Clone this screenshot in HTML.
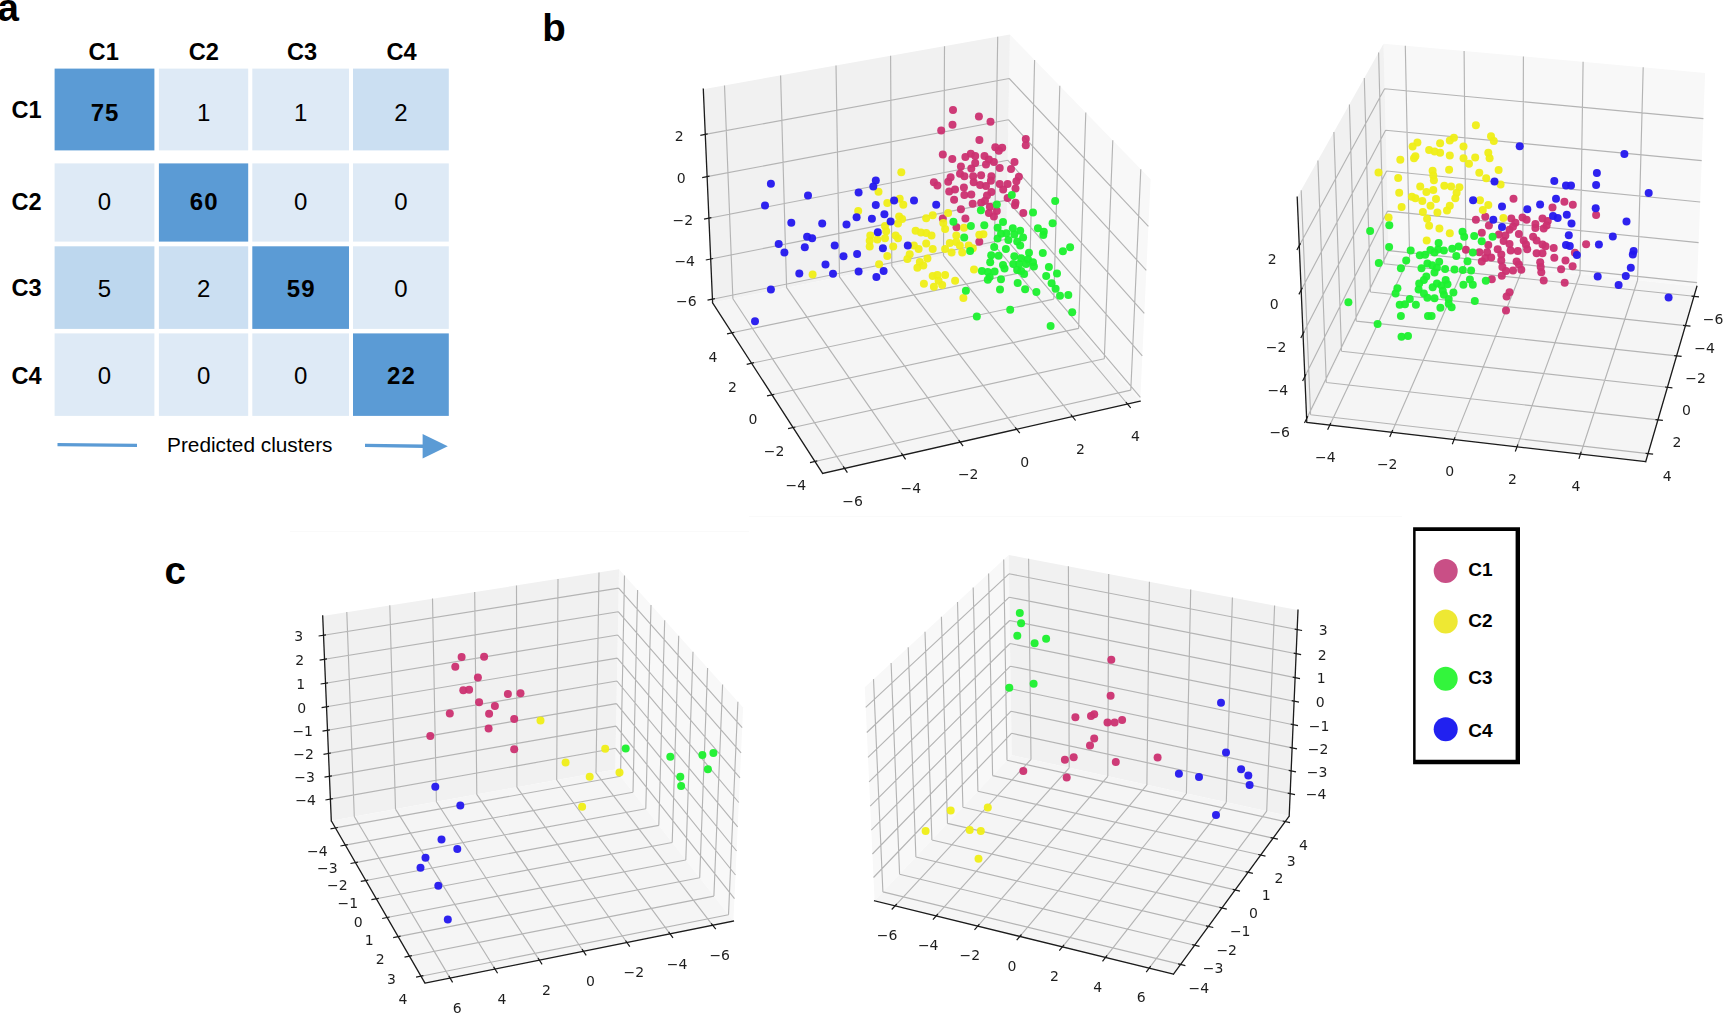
<!DOCTYPE html>
<html><head><meta charset="utf-8"><title>Figure</title>
<style>
html,body{margin:0;padding:0;background:#fff;}
body{width:1728px;height:1018px;position:relative;overflow:hidden;font-family:"Liberation Sans",sans-serif;color:#000;}
svg{position:absolute;left:0;top:0;}
svg text{font-family:"DejaVu Sans","Liberation Sans",sans-serif;}
text.pl{font-family:"Liberation Sans",sans-serif;font-weight:bold;font-size:38.5px;fill:#000;}
text.hd{font-family:"Liberation Sans",sans-serif;font-weight:bold;font-size:23.6px;fill:#000;}
text.nb{font-family:"Liberation Sans",sans-serif;font-weight:bold;font-size:24px;letter-spacing:1.1px;fill:#000;text-anchor:middle;}
text.nr{font-family:"Liberation Sans",sans-serif;font-size:24px;fill:#000;text-anchor:middle;}
text.cap{font-family:"Liberation Sans",sans-serif;font-size:20px;fill:#000;}
.tl text{font-size:14px;text-anchor:middle;fill:#1f1f1f;}
text.lg{font-family:"Liberation Sans",sans-serif;font-weight:bold;font-size:19px;fill:#000;}
</style></head><body>
<svg width="1728" height="1018" viewBox="0 0 1728 1018">
<path d="M749 516.5H1402M290 531.6H749" stroke="#fafafa" stroke-width="1" fill="none"/>
<defs><filter id="sb" x="-5%" y="-5%" width="110%" height="110%"><feGaussianBlur stdDeviation="0.55"/></filter></defs>
<g filter="url(#sb)">
<polygon points="1140.2,401.2 1006.2,242.9 1009.9,34.5 1150.6,179.3" fill="#f8f8f8"/>
<polygon points="712.6,302.8 1006.2,242.9 1009.9,34.5 703.3,89.2" fill="#f1f1f1"/>
<polygon points="822.6,473.4 1140.2,401.2 1006.2,242.9 712.6,302.8" fill="#f5f5f5"/>
<path d="M732.9,298.7L724.5,85.4M844.6,468.4L732.9,298.7M786.6,287.7L780.6,75.4M902.8,455.2L786.6,287.7M839.5,276.9L836.0,65.5M960.2,442.1L839.5,276.9M891.8,266.2L890.6,55.8M1016.7,429.3L891.8,266.2M943.5,255.7L944.5,46.2M1072.5,416.6L943.5,255.7M994.5,245.3L997.7,36.7M1127.5,404.0L994.5,245.3M1130.8,390.1L1140.8,169.2M814.9,461.5L1130.8,390.1M1104.3,358.7L1112.8,140.3M793.0,427.5L1104.3,358.7M1078.6,328.4L1085.8,112.6M771.9,394.8L1078.6,328.4M1053.8,299.1L1059.8,85.8M751.5,363.3L1053.8,299.1M1029.8,270.8L1034.6,59.9M731.9,332.8L1029.8,270.8M1140.4,397.4L1006.3,239.3M712.4,299.2L1006.3,239.3M1142.3,355.8L1007.0,200.1M710.7,259.0L1007.0,200.1M1144.3,313.4L1007.7,160.2M708.9,218.2L1007.7,160.2M1146.3,270.3L1008.4,119.7M707.1,176.6L1008.4,119.7M1148.4,226.3L1009.2,78.5M705.2,134.4L1009.2,78.5" stroke="#b4b4b4" stroke-width="1.15" fill="none"/>
<g fill="#cb2f70" fill-opacity="0.95"><circle cx="953.0" cy="110.0" r="4"/><circle cx="978.9" cy="116.4" r="4"/><circle cx="990.5" cy="121.7" r="4"/><circle cx="952.5" cy="124.7" r="4"/><circle cx="941.2" cy="130.4" r="4"/><circle cx="979.3" cy="241.8" r="4"/><circle cx="979.4" cy="139.9" r="4"/><circle cx="995.3" cy="147.3" r="4"/><circle cx="1002.2" cy="147.8" r="4"/><circle cx="998.8" cy="150.7" r="4"/><circle cx="1025.8" cy="138.9" r="4"/><circle cx="1025.8" cy="145.3" r="4"/><circle cx="942.8" cy="154.6" r="4"/><circle cx="952.3" cy="159.1" r="4"/><circle cx="965.4" cy="157.1" r="4"/><circle cx="970.8" cy="153.7" r="4"/><circle cx="975.2" cy="156.1" r="4"/><circle cx="984.5" cy="156.1" r="4"/><circle cx="988.9" cy="159.6" r="4"/><circle cx="993.9" cy="162.0" r="4"/><circle cx="986.0" cy="164.5" r="4"/><circle cx="975.2" cy="163.0" r="4"/><circle cx="971.3" cy="168.4" r="4"/><circle cx="960.9" cy="166.4" r="4"/><circle cx="999.7" cy="167.9" r="4"/><circle cx="1014.5" cy="162.0" r="4"/><circle cx="1011.0" cy="168.9" r="4"/><circle cx="950.6" cy="177.2" r="4"/><circle cx="948.2" cy="181.7" r="4"/><circle cx="960.0" cy="173.8" r="4"/><circle cx="964.4" cy="176.3" r="4"/><circle cx="973.2" cy="176.3" r="4"/><circle cx="981.1" cy="175.3" r="4"/><circle cx="991.4" cy="176.3" r="4"/><circle cx="990.9" cy="180.7" r="4"/><circle cx="973.7" cy="182.2" r="4"/><circle cx="980.1" cy="185.1" r="4"/><circle cx="986.0" cy="186.1" r="4"/><circle cx="1018.9" cy="176.7" r="4"/><circle cx="1016.4" cy="181.2" r="4"/><circle cx="999.7" cy="184.1" r="4"/><circle cx="1007.6" cy="184.1" r="4"/><circle cx="1003.2" cy="189.5" r="4"/><circle cx="1015.5" cy="188.5" r="4"/><circle cx="991.4" cy="192.0" r="4"/><circle cx="987.0" cy="195.4" r="4"/><circle cx="933.9" cy="182.2" r="4"/><circle cx="937.4" cy="185.6" r="4"/><circle cx="949.2" cy="191.5" r="4"/><circle cx="955.0" cy="189.5" r="4"/><circle cx="963.9" cy="187.6" r="4"/><circle cx="964.4" cy="194.9" r="4"/><circle cx="971.3" cy="194.4" r="4"/><circle cx="954.1" cy="199.8" r="4"/><circle cx="972.7" cy="203.8" r="4"/><circle cx="981.1" cy="202.8" r="4"/><circle cx="985.0" cy="200.8" r="4"/><circle cx="1007.6" cy="197.9" r="4"/><circle cx="1015.5" cy="202.8" r="4"/><circle cx="1015.0" cy="205.2" r="4"/><circle cx="989.9" cy="206.7" r="4"/><circle cx="988.9" cy="213.1" r="4"/><circle cx="993.9" cy="216.5" r="4"/><circle cx="996.8" cy="211.1" r="4"/><circle cx="960.9" cy="209.2" r="4"/><circle cx="965.4" cy="218.5" r="4"/><circle cx="942.8" cy="218.5" r="4"/><circle cx="1023.3" cy="213.1" r="4"/><circle cx="956.5" cy="227.3" r="4"/></g>
<g fill="#efee18" fill-opacity="0.95"><circle cx="858.2" cy="211.0" r="4"/><circle cx="812.6" cy="274.4" r="4"/><circle cx="901.3" cy="172.2" r="4"/><circle cx="983.4" cy="234.3" r="4"/><circle cx="878.5" cy="191.8" r="4"/><circle cx="887.3" cy="203.0" r="4"/><circle cx="899.7" cy="198.8" r="4"/><circle cx="903.3" cy="204.7" r="4"/><circle cx="899.1" cy="216.5" r="4"/><circle cx="902.1" cy="218.9" r="4"/><circle cx="898.0" cy="223.6" r="4"/><circle cx="885.0" cy="226.0" r="4"/><circle cx="886.2" cy="231.3" r="4"/><circle cx="870.3" cy="235.4" r="4"/><circle cx="869.7" cy="240.7" r="4"/><circle cx="869.7" cy="246.6" r="4"/><circle cx="877.3" cy="239.5" r="4"/><circle cx="885.0" cy="238.3" r="4"/><circle cx="895.6" cy="235.4" r="4"/><circle cx="898.0" cy="238.3" r="4"/><circle cx="893.2" cy="246.6" r="4"/><circle cx="887.3" cy="256.0" r="4"/><circle cx="879.1" cy="264.3" r="4"/><circle cx="915.6" cy="230.7" r="4"/><circle cx="920.9" cy="232.4" r="4"/><circle cx="926.2" cy="233.0" r="4"/><circle cx="931.5" cy="235.4" r="4"/><circle cx="913.9" cy="245.4" r="4"/><circle cx="918.6" cy="248.9" r="4"/><circle cx="926.2" cy="243.6" r="4"/><circle cx="932.7" cy="248.9" r="4"/><circle cx="909.7" cy="254.2" r="4"/><circle cx="907.4" cy="259.0" r="4"/><circle cx="927.4" cy="258.4" r="4"/><circle cx="919.8" cy="261.9" r="4"/><circle cx="917.4" cy="267.8" r="4"/><circle cx="923.3" cy="265.4" r="4"/><circle cx="926.2" cy="218.3" r="4"/><circle cx="932.7" cy="215.3" r="4"/><circle cx="943.3" cy="223.0" r="4"/><circle cx="945.1" cy="228.9" r="4"/><circle cx="948.1" cy="213.0" r="4"/><circle cx="964.0" cy="227.7" r="4"/><circle cx="956.3" cy="235.4" r="4"/><circle cx="949.8" cy="243.0" r="4"/><circle cx="956.3" cy="241.9" r="4"/><circle cx="959.8" cy="245.4" r="4"/><circle cx="945.1" cy="248.9" r="4"/><circle cx="951.6" cy="252.5" r="4"/><circle cx="962.2" cy="252.5" r="4"/><circle cx="968.7" cy="245.4" r="4"/><circle cx="972.8" cy="248.3" r="4"/><circle cx="979.3" cy="234.8" r="4"/><circle cx="932.7" cy="276.1" r="4"/><circle cx="937.4" cy="274.9" r="4"/><circle cx="945.1" cy="274.9" r="4"/><circle cx="938.6" cy="280.8" r="4"/><circle cx="923.9" cy="283.7" r="4"/><circle cx="933.9" cy="286.7" r="4"/><circle cx="942.2" cy="284.9" r="4"/><circle cx="955.1" cy="280.8" r="4"/><circle cx="974.0" cy="269.6" r="4"/><circle cx="963.4" cy="297.9" r="4"/></g>
<g fill="#1cf02e" fill-opacity="0.95"><circle cx="1011.8" cy="194.9" r="4"/><circle cx="1055.2" cy="201.1" r="4"/><circle cx="996.8" cy="204.4" r="4"/><circle cx="980.9" cy="210.2" r="4"/><circle cx="1033.0" cy="212.4" r="4"/><circle cx="953.4" cy="221.7" r="4"/><circle cx="970.9" cy="225.9" r="4"/><circle cx="964.2" cy="237.6" r="4"/><circle cx="970.1" cy="251.0" r="4"/><circle cx="965.9" cy="290.7" r="4"/><circle cx="976.8" cy="316.4" r="4"/><circle cx="1050.6" cy="326.1" r="4"/><circle cx="984.3" cy="225.3" r="4"/><circle cx="1003.0" cy="221.9" r="4"/><circle cx="997.6" cy="227.8" r="4"/><circle cx="1012.8" cy="228.3" r="4"/><circle cx="1020.2" cy="230.7" r="4"/><circle cx="1001.0" cy="233.7" r="4"/><circle cx="1006.4" cy="233.2" r="4"/><circle cx="1014.3" cy="234.6" r="4"/><circle cx="1023.1" cy="237.6" r="4"/><circle cx="997.6" cy="238.6" r="4"/><circle cx="1008.4" cy="240.0" r="4"/><circle cx="1017.2" cy="241.5" r="4"/><circle cx="1020.2" cy="245.5" r="4"/><circle cx="994.2" cy="246.9" r="4"/><circle cx="1005.9" cy="248.9" r="4"/><circle cx="1037.9" cy="228.3" r="4"/><circle cx="1043.8" cy="231.7" r="4"/><circle cx="1043.3" cy="235.1" r="4"/><circle cx="1052.6" cy="223.3" r="4"/><circle cx="1029.0" cy="252.8" r="4"/><circle cx="1014.3" cy="256.3" r="4"/><circle cx="1021.2" cy="258.2" r="4"/><circle cx="1028.0" cy="259.2" r="4"/><circle cx="1033.0" cy="262.2" r="4"/><circle cx="1013.3" cy="264.1" r="4"/><circle cx="1019.2" cy="264.1" r="4"/><circle cx="1026.1" cy="264.1" r="4"/><circle cx="1033.9" cy="266.6" r="4"/><circle cx="1017.2" cy="270.0" r="4"/><circle cx="1024.1" cy="273.9" r="4"/><circle cx="1021.2" cy="271.0" r="4"/><circle cx="991.2" cy="255.3" r="4"/><circle cx="998.6" cy="255.8" r="4"/><circle cx="990.2" cy="262.2" r="4"/><circle cx="1003.0" cy="265.1" r="4"/><circle cx="1004.5" cy="268.5" r="4"/><circle cx="981.9" cy="271.0" r="4"/><circle cx="987.8" cy="272.0" r="4"/><circle cx="994.6" cy="271.5" r="4"/><circle cx="989.7" cy="276.9" r="4"/><circle cx="987.8" cy="279.8" r="4"/><circle cx="1001.0" cy="279.3" r="4"/><circle cx="1042.8" cy="253.1" r="4"/><circle cx="1062.9" cy="251.3" r="4"/><circle cx="1070.1" cy="247.2" r="4"/><circle cx="1048.9" cy="267.1" r="4"/><circle cx="1057.0" cy="273.4" r="4"/><circle cx="1046.2" cy="276.1" r="4"/><circle cx="1051.6" cy="283.3" r="4"/><circle cx="1055.6" cy="288.7" r="4"/><circle cx="1060.0" cy="295.7" r="4"/><circle cx="1068.3" cy="295.1" r="4"/><circle cx="1017.7" cy="283.0" r="4"/><circle cx="1025.1" cy="289.2" r="4"/><circle cx="1000.0" cy="289.5" r="4"/><circle cx="1036.4" cy="292.1" r="4"/><circle cx="1010.2" cy="309.8" r="4"/><circle cx="1072.2" cy="312.2" r="4"/></g>
<g fill="#2418ee" fill-opacity="0.95"><circle cx="770.9" cy="183.7" r="4"/><circle cx="765.0" cy="205.6" r="4"/><circle cx="808.0" cy="195.4" r="4"/><circle cx="791.3" cy="222.8" r="4"/><circle cx="822.2" cy="223.5" r="4"/><circle cx="846.5" cy="224.6" r="4"/><circle cx="858.6" cy="192.6" r="4"/><circle cx="875.8" cy="180.6" r="4"/><circle cx="873.3" cy="186.4" r="4"/><circle cx="875.8" cy="205.1" r="4"/><circle cx="856.6" cy="217.3" r="4"/><circle cx="871.9" cy="218.8" r="4"/><circle cx="884.4" cy="214.3" r="4"/><circle cx="890.6" cy="221.5" r="4"/><circle cx="894.1" cy="200.6" r="4"/><circle cx="914.0" cy="200.6" r="4"/><circle cx="877.8" cy="232.2" r="4"/><circle cx="807.1" cy="236.8" r="4"/><circle cx="812.1" cy="238.2" r="4"/><circle cx="778.7" cy="243.9" r="4"/><circle cx="784.4" cy="252.4" r="4"/><circle cx="804.8" cy="247.2" r="4"/><circle cx="834.7" cy="245.4" r="4"/><circle cx="843.5" cy="256.2" r="4"/><circle cx="857.1" cy="253.9" r="4"/><circle cx="882.9" cy="248.2" r="4"/><circle cx="907.8" cy="245.4" r="4"/><circle cx="825.5" cy="264.4" r="4"/><circle cx="799.3" cy="273.6" r="4"/><circle cx="833.0" cy="273.7" r="4"/><circle cx="858.6" cy="271.6" r="4"/><circle cx="883.6" cy="271.1" r="4"/><circle cx="876.4" cy="276.9" r="4"/><circle cx="770.9" cy="289.4" r="4"/><circle cx="755.0" cy="321.3" r="4"/><circle cx="936.2" cy="204.8" r="4"/></g>
<path d="M822.6,473.4L1140.2,401.2M822.6,473.4L712.6,302.8M712.6,302.8L703.3,89.2" stroke="#1a1a1a" stroke-width="1.3" fill="none" stroke-linecap="square"/>
<path d="M843.2,466.3L847.4,472.6M901.4,453.1L905.6,459.3M958.7,440.1L963.1,446.2M1015.2,427.3L1019.8,433.2M1070.9,414.6L1075.6,420.5M1125.9,402.1L1130.7,407.9M817.3,460.9L810.0,462.6M795.4,427.0L788.1,428.6M774.3,394.3L767.0,395.9M754.0,362.7L746.7,364.3M734.3,332.3L727.0,333.8M714.9,298.7L707.5,300.2M713.1,258.5L705.8,260.0M711.4,217.7L704.0,219.1M709.5,176.2L702.2,177.6M707.7,133.9L700.3,135.3" stroke="#1a1a1a" stroke-width="1.2" fill="none"/>
<g class="tl"><text x="852.6" y="505.7">−6</text><text x="910.8" y="492.5">−4</text><text x="968.2" y="479.4">−2</text><text x="1024.7" y="466.6">0</text><text x="1080.5" y="453.9">2</text><text x="1135.5" y="441.3">4</text><text x="795.9" y="490.3">−4</text><text x="774.0" y="456.3">−2</text><text x="752.9" y="423.6">0</text><text x="732.5" y="392.1">2</text><text x="712.9" y="361.6">4</text><text x="686.4" y="306.0">−6</text><text x="684.7" y="265.8">−4</text><text x="682.9" y="225.0">−2</text><text x="681.1" y="183.4">0</text><text x="679.2" y="141.2">2</text></g>
</g>
<g filter="url(#sb)">
<polygon points="1388.7,254.3 1696.9,286.4 1705.1,72.9 1383.5,43.7" fill="#f8f8f8"/>
<polygon points="1388.7,254.3 1306.8,422.5 1297.2,197.2 1383.5,43.7" fill="#f1f1f1"/>
<polygon points="1388.7,254.3 1306.8,422.5 1645.7,461.7 1696.9,286.4" fill="#f5f5f5"/>
<path d="M1384.0,263.8L1378.6,52.4M1384.0,263.8L1694.0,296.3M1370.4,292.0L1364.3,78.0M1370.4,292.0L1685.5,325.6M1356.2,321.1L1349.4,104.5M1356.2,321.1L1676.6,355.9M1341.5,351.2L1333.9,132.0M1341.5,351.2L1667.5,387.3M1326.3,382.5L1317.9,160.5M1326.3,382.5L1658.0,419.9M1310.6,414.8L1301.2,190.2M1310.6,414.8L1648.1,453.6M1409.6,256.5L1405.3,45.7M1409.6,256.5L1329.8,425.2M1466.0,262.4L1464.1,51.0M1466.0,262.4L1391.7,432.4M1522.8,268.3L1523.4,56.4M1522.8,268.3L1454.1,439.6M1580.0,274.2L1583.1,61.8M1580.0,274.2L1517.0,446.8M1637.6,280.2L1643.2,67.3M1637.6,280.2L1580.5,454.2M1388.6,250.6L1697.1,282.6M1388.6,250.6L1306.7,418.6M1387.6,211.1L1698.6,242.6M1387.6,211.1L1304.9,376.5M1386.6,171.0L1700.2,202.0M1386.6,171.0L1303.1,333.6M1385.6,130.2L1701.7,160.6M1385.6,130.2L1301.2,290.0M1384.6,88.8L1703.4,118.6M1384.6,88.8L1299.3,245.6" stroke="#b4b4b4" stroke-width="1.15" fill="none"/>
<g fill="#cb2f70" fill-opacity="0.95"><circle cx="1513.5" cy="198.7" r="4"/><circle cx="1564.4" cy="201.7" r="4"/><circle cx="1572.8" cy="204.7" r="4"/><circle cx="1596.1" cy="215.0" r="4"/><circle cx="1586.1" cy="244.3" r="4"/><circle cx="1552.5" cy="207.4" r="4"/><circle cx="1475.9" cy="219.7" r="4"/><circle cx="1485.3" cy="216.8" r="4"/><circle cx="1488.9" cy="225.6" r="4"/><circle cx="1481.8" cy="232.7" r="4"/><circle cx="1511.3" cy="218.6" r="4"/><circle cx="1522.5" cy="217.4" r="4"/><circle cx="1526.6" cy="219.7" r="4"/><circle cx="1515.4" cy="222.7" r="4"/><circle cx="1513.0" cy="226.8" r="4"/><circle cx="1509.5" cy="229.8" r="4"/><circle cx="1542.5" cy="218.6" r="4"/><circle cx="1547.8" cy="220.9" r="4"/><circle cx="1535.4" cy="223.9" r="4"/><circle cx="1535.4" cy="228.0" r="4"/><circle cx="1543.7" cy="228.6" r="4"/><circle cx="1546.6" cy="225.6" r="4"/><circle cx="1498.9" cy="234.5" r="4"/><circle cx="1505.4" cy="235.6" r="4"/><circle cx="1518.9" cy="233.9" r="4"/><circle cx="1503.6" cy="241.0" r="4"/><circle cx="1509.5" cy="243.9" r="4"/><circle cx="1523.7" cy="240.4" r="4"/><circle cx="1526.0" cy="244.5" r="4"/><circle cx="1533.1" cy="236.8" r="4"/><circle cx="1536.6" cy="240.4" r="4"/><circle cx="1542.5" cy="244.5" r="4"/><circle cx="1545.5" cy="246.3" r="4"/><circle cx="1527.2" cy="249.2" r="4"/><circle cx="1553.7" cy="248.0" r="4"/><circle cx="1465.9" cy="249.8" r="4"/><circle cx="1488.3" cy="245.1" r="4"/><circle cx="1497.7" cy="249.2" r="4"/><circle cx="1479.4" cy="252.2" r="4"/><circle cx="1487.1" cy="252.2" r="4"/><circle cx="1485.3" cy="258.0" r="4"/><circle cx="1491.2" cy="257.5" r="4"/><circle cx="1481.8" cy="261.6" r="4"/><circle cx="1501.3" cy="254.5" r="4"/><circle cx="1510.7" cy="250.4" r="4"/><circle cx="1517.8" cy="251.0" r="4"/><circle cx="1501.3" cy="260.4" r="4"/><circle cx="1516.6" cy="261.6" r="4"/><circle cx="1518.9" cy="264.5" r="4"/><circle cx="1502.4" cy="266.9" r="4"/><circle cx="1506.0" cy="271.0" r="4"/><circle cx="1513.0" cy="270.4" r="4"/><circle cx="1521.3" cy="269.8" r="4"/><circle cx="1501.8" cy="275.7" r="4"/><circle cx="1491.8" cy="279.3" r="4"/><circle cx="1536.6" cy="253.3" r="4"/><circle cx="1542.5" cy="253.3" r="4"/><circle cx="1540.2" cy="262.2" r="4"/><circle cx="1540.7" cy="266.9" r="4"/><circle cx="1541.3" cy="272.2" r="4"/><circle cx="1543.7" cy="280.4" r="4"/><circle cx="1554.3" cy="257.8" r="4"/><circle cx="1565.5" cy="260.4" r="4"/><circle cx="1572.6" cy="266.3" r="4"/><circle cx="1561.1" cy="269.2" r="4"/><circle cx="1564.7" cy="282.8" r="4"/><circle cx="1574.9" cy="252.7" r="4"/><circle cx="1509.5" cy="292.2" r="4"/><circle cx="1506.6" cy="296.4" r="4"/><circle cx="1506.0" cy="310.5" r="4"/></g>
<g fill="#efee18" fill-opacity="0.95"><circle cx="1475.9" cy="125.3" r="4"/><circle cx="1491.0" cy="136.3" r="4"/><circle cx="1493.8" cy="141.1" r="4"/><circle cx="1417.4" cy="142.5" r="4"/><circle cx="1412.6" cy="146.6" r="4"/><circle cx="1440.1" cy="143.2" r="4"/><circle cx="1449.8" cy="140.4" r="4"/><circle cx="1453.9" cy="137.7" r="4"/><circle cx="1463.5" cy="146.6" r="4"/><circle cx="1429.1" cy="150.1" r="4"/><circle cx="1434.6" cy="151.4" r="4"/><circle cx="1440.1" cy="152.8" r="4"/><circle cx="1449.8" cy="155.6" r="4"/><circle cx="1415.4" cy="156.3" r="4"/><circle cx="1414.0" cy="158.3" r="4"/><circle cx="1400.3" cy="159.7" r="4"/><circle cx="1463.5" cy="158.3" r="4"/><circle cx="1469.0" cy="163.8" r="4"/><circle cx="1475.2" cy="157.6" r="4"/><circle cx="1488.3" cy="152.8" r="4"/><circle cx="1489.6" cy="158.3" r="4"/><circle cx="1378.5" cy="172.5" r="4"/><circle cx="1398.2" cy="178.0" r="4"/><circle cx="1432.6" cy="170.7" r="4"/><circle cx="1433.3" cy="175.5" r="4"/><circle cx="1433.9" cy="180.3" r="4"/><circle cx="1449.1" cy="169.7" r="4"/><circle cx="1479.3" cy="172.8" r="4"/><circle cx="1486.2" cy="178.3" r="4"/><circle cx="1498.6" cy="170.0" r="4"/><circle cx="1500.6" cy="184.4" r="4"/><circle cx="1420.2" cy="186.5" r="4"/><circle cx="1399.2" cy="192.7" r="4"/><circle cx="1444.3" cy="185.8" r="4"/><circle cx="1451.1" cy="186.5" r="4"/><circle cx="1459.4" cy="187.2" r="4"/><circle cx="1456.6" cy="192.7" r="4"/><circle cx="1433.3" cy="190.0" r="4"/><circle cx="1426.4" cy="192.0" r="4"/><circle cx="1411.9" cy="196.8" r="4"/><circle cx="1415.4" cy="198.2" r="4"/><circle cx="1422.3" cy="201.0" r="4"/><circle cx="1436.0" cy="198.9" r="4"/><circle cx="1455.3" cy="198.2" r="4"/><circle cx="1449.8" cy="205.8" r="4"/><circle cx="1447.0" cy="210.6" r="4"/><circle cx="1430.5" cy="205.8" r="4"/><circle cx="1437.4" cy="212.6" r="4"/><circle cx="1401.6" cy="207.1" r="4"/><circle cx="1422.9" cy="212.0" r="4"/><circle cx="1427.1" cy="218.8" r="4"/><circle cx="1429.1" cy="225.7" r="4"/><circle cx="1439.4" cy="228.5" r="4"/><circle cx="1449.8" cy="233.3" r="4"/><circle cx="1480.0" cy="200.3" r="4"/><circle cx="1488.3" cy="205.1" r="4"/><circle cx="1482.8" cy="209.9" r="4"/><circle cx="1503.4" cy="218.1" r="4"/><circle cx="1388.6" cy="217.5" r="4"/><circle cx="1426.7" cy="240.4" r="4"/></g>
<g fill="#1cf02e" fill-opacity="0.95"><circle cx="1370.1" cy="231.1" r="4"/><circle cx="1389.3" cy="225.2" r="4"/><circle cx="1378.8" cy="263.1" r="4"/><circle cx="1348.4" cy="302.2" r="4"/><circle cx="1377.6" cy="323.9" r="4"/><circle cx="1462.5" cy="231.7" r="4"/><circle cx="1464.2" cy="236.8" r="4"/><circle cx="1474.2" cy="235.9" r="4"/><circle cx="1492.6" cy="236.8" r="4"/><circle cx="1389.1" cy="247.1" r="4"/><circle cx="1438.6" cy="242.9" r="4"/><circle cx="1410.7" cy="250.4" r="4"/><circle cx="1419.8" cy="255.3" r="4"/><circle cx="1425.1" cy="254.7" r="4"/><circle cx="1430.4" cy="250.0" r="4"/><circle cx="1434.5" cy="252.4" r="4"/><circle cx="1438.0" cy="249.4" r="4"/><circle cx="1443.9" cy="250.6" r="4"/><circle cx="1452.2" cy="248.8" r="4"/><circle cx="1458.7" cy="246.5" r="4"/><circle cx="1456.3" cy="255.9" r="4"/><circle cx="1472.8" cy="252.4" r="4"/><circle cx="1481.7" cy="241.2" r="4"/><circle cx="1406.2" cy="260.6" r="4"/><circle cx="1400.9" cy="268.3" r="4"/><circle cx="1421.5" cy="268.3" r="4"/><circle cx="1427.4" cy="263.6" r="4"/><circle cx="1432.2" cy="265.3" r="4"/><circle cx="1439.2" cy="261.8" r="4"/><circle cx="1436.9" cy="267.7" r="4"/><circle cx="1445.1" cy="268.9" r="4"/><circle cx="1454.5" cy="269.5" r="4"/><circle cx="1462.8" cy="270.1" r="4"/><circle cx="1471.1" cy="270.4" r="4"/><circle cx="1467.5" cy="261.2" r="4"/><circle cx="1434.5" cy="272.4" r="4"/><circle cx="1426.3" cy="276.5" r="4"/><circle cx="1423.9" cy="280.1" r="4"/><circle cx="1419.2" cy="283.6" r="4"/><circle cx="1418.6" cy="289.5" r="4"/><circle cx="1423.9" cy="293.6" r="4"/><circle cx="1427.4" cy="297.8" r="4"/><circle cx="1434.5" cy="298.3" r="4"/><circle cx="1432.7" cy="287.2" r="4"/><circle cx="1436.9" cy="283.6" r="4"/><circle cx="1441.6" cy="285.4" r="4"/><circle cx="1445.7" cy="280.1" r="4"/><circle cx="1447.5" cy="284.2" r="4"/><circle cx="1442.8" cy="290.7" r="4"/><circle cx="1443.9" cy="294.8" r="4"/><circle cx="1453.4" cy="292.5" r="4"/><circle cx="1448.7" cy="298.9" r="4"/><circle cx="1448.7" cy="303.7" r="4"/><circle cx="1451.6" cy="307.2" r="4"/><circle cx="1440.4" cy="307.8" r="4"/><circle cx="1397.4" cy="288.3" r="4"/><circle cx="1395.6" cy="293.6" r="4"/><circle cx="1409.8" cy="298.9" r="4"/><circle cx="1399.7" cy="304.8" r="4"/><circle cx="1405.0" cy="304.2" r="4"/><circle cx="1415.9" cy="304.8" r="4"/><circle cx="1400.9" cy="316.0" r="4"/><circle cx="1428.0" cy="316.0" r="4"/><circle cx="1431.6" cy="316.0" r="4"/><circle cx="1401.5" cy="336.7" r="4"/><circle cx="1408.0" cy="336.1" r="4"/><circle cx="1463.4" cy="284.8" r="4"/><circle cx="1469.9" cy="279.5" r="4"/><circle cx="1472.8" cy="284.8" r="4"/><circle cx="1485.8" cy="280.7" r="4"/><circle cx="1474.8" cy="301.1" r="4"/></g>
<g fill="#2418ee" fill-opacity="0.95"><circle cx="1494.5" cy="181.5" r="4"/><circle cx="1473.1" cy="200.2" r="4"/><circle cx="1502.0" cy="206.5" r="4"/><circle cx="1493.3" cy="219.7" r="4"/><circle cx="1502.0" cy="226.9" r="4"/><circle cx="1519.7" cy="146.2" r="4"/><circle cx="1624.4" cy="153.9" r="4"/><circle cx="1596.9" cy="173.1" r="4"/><circle cx="1596.1" cy="185.1" r="4"/><circle cx="1554.3" cy="180.9" r="4"/><circle cx="1566.0" cy="185.6" r="4"/><circle cx="1571.0" cy="185.6" r="4"/><circle cx="1648.7" cy="193.0" r="4"/><circle cx="1556.0" cy="198.8" r="4"/><circle cx="1540.1" cy="204.6" r="4"/><circle cx="1527.3" cy="209.3" r="4"/><circle cx="1595.7" cy="208.2" r="4"/><circle cx="1553.0" cy="216.0" r="4"/><circle cx="1557.7" cy="218.0" r="4"/><circle cx="1566.8" cy="214.8" r="4"/><circle cx="1571.5" cy="223.5" r="4"/><circle cx="1626.5" cy="221.5" r="4"/><circle cx="1568.8" cy="235.2" r="4"/><circle cx="1612.8" cy="236.4" r="4"/><circle cx="1566.0" cy="244.9" r="4"/><circle cx="1569.8" cy="246.1" r="4"/><circle cx="1598.9" cy="244.4" r="4"/><circle cx="1576.9" cy="254.9" r="4"/><circle cx="1633.6" cy="251.1" r="4"/><circle cx="1632.8" cy="254.4" r="4"/><circle cx="1630.8" cy="267.8" r="4"/><circle cx="1625.8" cy="276.1" r="4"/><circle cx="1597.7" cy="276.6" r="4"/><circle cx="1618.6" cy="285.0" r="4"/><circle cx="1668.6" cy="297.5" r="4"/></g>
<path d="M1696.9,286.4L1645.7,461.7M1306.8,422.5L1645.7,461.7M1306.8,422.5L1297.2,197.2" stroke="#1a1a1a" stroke-width="1.3" fill="none" stroke-linecap="square"/>
<path d="M1691.5,296.1L1699.0,296.9M1683.0,325.3L1690.5,326.1M1674.2,355.6L1681.6,356.4M1665.0,387.0L1672.4,387.9M1655.5,419.6L1662.9,420.4M1645.6,453.4L1653.1,454.2M1330.8,422.9L1327.6,429.7M1392.7,430.1L1389.7,436.9M1455.0,437.2L1452.3,444.2M1517.9,444.5L1515.3,451.5M1581.2,451.8L1578.9,458.9M1307.8,416.3L1304.5,423.0M1306.0,374.2L1302.6,380.9M1304.2,331.4L1300.8,338.1M1302.4,287.8L1298.9,294.4M1300.5,243.4L1296.9,250.0" stroke="#1a1a1a" stroke-width="1.2" fill="none"/>
<g class="tl"><text x="1713.0" y="323.6">−6</text><text x="1704.5" y="352.9">−4</text><text x="1695.6" y="383.2">−2</text><text x="1686.5" y="414.6">0</text><text x="1677.0" y="447.2">2</text><text x="1667.1" y="480.9">4</text><text x="1325.3" y="462.0">−4</text><text x="1387.2" y="469.2">−2</text><text x="1449.6" y="476.4">0</text><text x="1512.5" y="483.6">2</text><text x="1576.0" y="491.0">4</text><text x="1279.7" y="437.4">−6</text><text x="1277.9" y="395.3">−4</text><text x="1276.1" y="352.4">−2</text><text x="1274.2" y="308.8">0</text><text x="1272.3" y="264.4">2</text></g>
</g>
<g filter="url(#sb)">
<polygon points="615.2,769.5 733.4,921.1 743.1,707.5 619.0,569.3" fill="#f8f8f8"/>
<polygon points="615.2,769.5 331.3,820.7 322.7,615.9 619.0,569.3" fill="#f1f1f1"/>
<polygon points="615.2,769.5 331.3,820.7 425.0,983.1 733.4,921.1" fill="#f5f5f5"/>
<path d="M596.0,772.9L599.0,572.5M596.0,772.9L712.7,925.3M556.7,780.0L558.0,578.9M556.7,780.0L670.0,933.8M516.9,787.2L516.5,585.4M516.9,787.2L626.9,942.5M476.8,794.4L474.7,592.0M476.8,794.4L583.4,951.3M436.4,801.7L432.5,598.6M436.4,801.7L539.4,960.1M395.5,809.1L389.8,605.3M395.5,809.1L495.0,969.0M354.3,816.5L346.8,612.1M354.3,816.5L450.1,978.1M620.5,776.2L624.5,575.5M620.5,776.2L335.4,827.9M633.0,792.3L637.6,590.1M633.0,792.3L345.3,845.1M645.8,808.7L651.0,605.0M645.8,808.7L355.4,862.6M658.8,825.4L664.7,620.2M658.8,825.4L365.8,880.5M672.2,842.5L678.7,635.8M672.2,842.5L376.3,898.8M685.8,860.0L693.0,651.7M685.8,860.0L387.1,917.5M699.7,877.8L707.6,668.0M699.7,877.8L398.1,936.6M713.9,896.1L722.6,684.6M713.9,896.1L409.4,956.2M728.5,914.7L737.9,701.7M728.5,914.7L421.0,976.2M615.6,748.3L734.5,898.6M615.6,748.3L330.3,799.1M616.0,726.1L735.5,875.0M616.0,726.1L329.4,776.4M616.4,703.6L736.6,851.0M616.4,703.6L328.4,753.4M616.9,681.0L737.7,826.9M616.9,681.0L327.5,730.2M617.3,658.1L738.8,802.5M617.3,658.1L326.5,706.8M617.7,635.0L740.0,777.8M617.7,635.0L325.5,683.2M618.2,611.7L741.1,752.9M618.2,611.7L324.5,659.3M618.6,588.1L742.2,727.7M618.6,588.1L323.5,635.2" stroke="#b4b4b4" stroke-width="1.15" fill="none"/>
<g fill="#cb2f70" fill-opacity="0.95"><circle cx="461.6" cy="657.0" r="4"/><circle cx="484.1" cy="656.7" r="4"/><circle cx="455.3" cy="666.7" r="4"/><circle cx="477.9" cy="677.5" r="4"/><circle cx="463.3" cy="690.3" r="4"/><circle cx="469.1" cy="689.8" r="4"/><circle cx="507.9" cy="694.1" r="4"/><circle cx="520.5" cy="693.3" r="4"/><circle cx="479.1" cy="702.3" r="4"/><circle cx="494.9" cy="706.1" r="4"/><circle cx="489.1" cy="713.8" r="4"/><circle cx="449.8" cy="713.6" r="4"/><circle cx="514.2" cy="718.9" r="4"/><circle cx="488.6" cy="728.4" r="4"/><circle cx="430.3" cy="736.1" r="4"/><circle cx="514.2" cy="749.2" r="4"/></g>
<g fill="#efee18" fill-opacity="0.95"><circle cx="540.5" cy="720.4" r="4"/><circle cx="605.2" cy="748.7" r="4"/><circle cx="565.6" cy="762.4" r="4"/><circle cx="589.7" cy="776.7" r="4"/><circle cx="619.5" cy="772.5" r="4"/><circle cx="582.1" cy="806.8" r="4"/></g>
<g fill="#1cf02e" fill-opacity="0.95"><circle cx="625.7" cy="748.4" r="4"/><circle cx="670.3" cy="756.7" r="4"/><circle cx="702.4" cy="754.9" r="4"/><circle cx="713.4" cy="752.9" r="4"/><circle cx="707.9" cy="769.2" r="4"/><circle cx="680.3" cy="776.7" r="4"/><circle cx="681.1" cy="786.0" r="4"/></g>
<g fill="#2418ee" fill-opacity="0.95"><circle cx="435.3" cy="786.7" r="4"/><circle cx="460.3" cy="805.6" r="4"/><circle cx="441.5" cy="839.4" r="4"/><circle cx="457.3" cy="848.9" r="4"/><circle cx="425.5" cy="857.7" r="4"/><circle cx="420.5" cy="867.7" r="4"/><circle cx="438.3" cy="885.7" r="4"/><circle cx="447.8" cy="919.6" r="4"/></g>
<path d="M733.4,921.1L425.0,983.1M331.3,820.7L425.0,983.1M331.3,820.7L322.7,615.9" stroke="#1a1a1a" stroke-width="1.3" fill="none" stroke-linecap="square"/>
<path d="M711.2,923.3L715.8,929.2M668.6,931.8L673.0,937.9M625.5,940.5L629.8,946.6M582.0,949.2L586.2,955.4M538.0,958.0L542.1,964.3M493.6,966.9L497.6,973.3M448.8,975.9L452.6,982.4M337.9,827.5L330.5,828.8M347.8,844.6L340.4,846.0M357.9,862.2L350.5,863.5M368.2,880.1L360.8,881.4M378.8,898.3L371.4,899.7M389.6,917.0L382.2,918.5M400.6,936.2L393.2,937.6M411.9,955.7L404.5,957.2M423.4,975.7L416.1,977.2M332.8,798.7L325.4,800.0M331.9,775.9L324.5,777.2M330.9,753.0L323.5,754.3M329.9,729.8L322.5,731.1M329.0,706.4L321.6,707.6M328.0,682.8L320.6,684.0M327.0,658.9L319.6,660.1M326.0,634.8L318.6,636.0" stroke="#1a1a1a" stroke-width="1.2" fill="none"/>
<g class="tl"><text x="719.7" y="960.1">−6</text><text x="677.0" y="968.6">−4</text><text x="633.9" y="977.3">−2</text><text x="590.4" y="986.1">0</text><text x="546.4" y="994.9">2</text><text x="502.0" y="1003.8">4</text><text x="457.1" y="1012.9">6</text><text x="317.4" y="855.7">−4</text><text x="327.3" y="872.9">−3</text><text x="337.4" y="890.4">−2</text><text x="347.8" y="908.3">−1</text><text x="358.3" y="926.6">0</text><text x="369.1" y="945.3">1</text><text x="380.1" y="964.4">2</text><text x="391.4" y="984.0">3</text><text x="403.0" y="1004.0">4</text><text x="305.5" y="804.9">−4</text><text x="304.6" y="782.2">−3</text><text x="303.6" y="759.2">−2</text><text x="302.7" y="736.0">−1</text><text x="301.7" y="712.6">0</text><text x="300.7" y="689.0">1</text><text x="299.7" y="665.1">2</text><text x="298.7" y="641.0">3</text></g>
</g>
<g filter="url(#sb)">
<polygon points="874.6,900.8 1011.8,755.2 1008.7,554.9 864.8,687.2" fill="#f8f8f8"/>
<polygon points="1011.8,755.2 1289.2,816.1 1298.0,610.1 1008.7,554.9" fill="#f1f1f1"/>
<polygon points="874.6,900.8 1173.5,974.1 1289.2,816.1 1011.8,755.2" fill="#f5f5f5"/>
<path d="M1031.0,759.4L1028.6,558.7M895.1,905.8L1031.0,759.4M1069.2,767.8L1068.4,566.3M936.2,915.9L1069.2,767.8M1107.8,776.3L1108.7,574.0M977.8,926.1L1107.8,776.3M1146.9,784.9L1149.4,581.8M1019.9,936.4L1146.9,784.9M1186.4,793.5L1190.7,589.6M1062.5,946.8L1186.4,793.5M1226.3,802.3L1232.4,597.6M1105.6,957.4L1226.3,802.3M1266.7,811.2L1274.6,605.6M1149.2,968.1L1266.7,811.2M882.9,891.9L873.5,679.1M882.9,891.9L1180.6,964.4M899.6,874.3L891.1,663.0M899.6,874.3L1194.7,945.2M915.9,857.0L908.2,647.2M915.9,857.0L1208.4,926.4M931.9,840.0L925.0,631.8M931.9,840.0L1221.9,907.9M947.5,823.4L941.4,616.7M947.5,823.4L1235.1,889.9M962.9,807.2L957.5,602.0M962.9,807.2L1248.0,872.3M977.9,791.2L973.2,587.5M977.9,791.2L1260.7,855.0M992.6,775.6L988.6,573.4M992.6,775.6L1273.0,838.1M1007.0,760.3L1003.7,559.5M1007.0,760.3L1285.2,821.6M873.5,877.5L1011.5,733.3M1011.5,733.3L1290.1,793.6M872.4,854.0L1011.1,711.2M1011.1,711.2L1291.1,770.8M871.3,830.2L1010.8,688.8M1010.8,688.8L1292.1,747.9M870.2,806.1L1010.4,666.2M1010.4,666.2L1293.1,724.7M869.1,781.8L1010.1,643.5M1010.1,643.5L1294.1,701.2M868.0,757.3L1009.7,620.5M1009.7,620.5L1295.1,677.6M866.8,732.5L1009.3,597.2M1009.3,597.2L1296.2,653.7M865.7,707.4L1009.0,573.8M1009.0,573.8L1297.2,629.5" stroke="#b4b4b4" stroke-width="1.15" fill="none"/>
<g fill="#cb2f70" fill-opacity="0.95"><circle cx="1075.4" cy="717.3" r="4"/><circle cx="1091.0" cy="716.1" r="4"/><circle cx="1094.2" cy="714.3" r="4"/><circle cx="1094.2" cy="738.6" r="4"/><circle cx="1090.0" cy="745.4" r="4"/><circle cx="1073.7" cy="757.2" r="4"/><circle cx="1064.9" cy="759.7" r="4"/><circle cx="1023.3" cy="771.0" r="4"/><circle cx="1066.7" cy="777.5" r="4"/><circle cx="1111.3" cy="659.7" r="4"/><circle cx="1110.6" cy="695.8" r="4"/><circle cx="1107.5" cy="722.4" r="4"/><circle cx="1114.6" cy="722.4" r="4"/><circle cx="1122.1" cy="719.9" r="4"/><circle cx="1115.8" cy="761.9" r="4"/><circle cx="1157.6" cy="757.4" r="4"/></g>
<g fill="#efee18" fill-opacity="0.95"><circle cx="950.7" cy="810.6" r="4"/><circle cx="987.8" cy="807.6" r="4"/><circle cx="925.6" cy="831.1" r="4"/><circle cx="969.7" cy="830.1" r="4"/><circle cx="980.8" cy="831.1" r="4"/><circle cx="978.5" cy="858.7" r="4"/></g>
<g fill="#1cf02e" fill-opacity="0.95"><circle cx="1019.8" cy="613.1" r="4"/><circle cx="1021.1" cy="623.2" r="4"/><circle cx="1017.3" cy="635.7" r="4"/><circle cx="1034.6" cy="643.2" r="4"/><circle cx="1046.1" cy="638.7" r="4"/><circle cx="1033.6" cy="683.8" r="4"/><circle cx="1009.3" cy="687.8" r="4"/></g>
<g fill="#2418ee" fill-opacity="0.95"><circle cx="1221.0" cy="702.8" r="4"/><circle cx="1226.0" cy="752.4" r="4"/><circle cx="1241.1" cy="769.2" r="4"/><circle cx="1248.3" cy="775.5" r="4"/><circle cx="1249.6" cy="785.0" r="4"/><circle cx="1178.9" cy="773.7" r="4"/><circle cx="1199.0" cy="777.0" r="4"/><circle cx="1216.0" cy="815.1" r="4"/></g>
<path d="M874.6,900.8L1173.5,974.1M1173.5,974.1L1289.2,816.1M1289.2,816.1L1298.0,610.1" stroke="#1a1a1a" stroke-width="1.3" fill="none" stroke-linecap="square"/>
<path d="M896.8,904.0L891.7,909.5M937.9,914.0L932.9,919.6M979.4,924.2L974.5,929.9M1021.5,934.5L1016.7,940.2M1064.0,944.9L1059.3,950.7M1107.1,955.4L1102.5,961.3M1150.7,966.1L1146.2,972.1M1178.1,963.8L1185.4,965.6M1192.2,944.6L1199.5,946.3M1206.0,925.8L1213.3,927.5M1219.5,907.4L1226.8,909.1M1232.7,889.4L1240.0,891.1M1245.6,871.7L1252.9,873.4M1258.2,854.5L1265.5,856.1M1270.6,837.6L1277.9,839.2M1282.7,821.0L1290.0,822.7M1287.7,793.1L1295.0,794.7M1288.7,770.3L1296.0,771.9M1289.7,747.3L1297.0,748.9M1290.7,724.2L1298.0,725.7M1291.7,700.7L1299.0,702.2M1292.7,677.1L1300.0,678.6M1293.7,653.2L1301.1,654.6M1294.7,629.1L1302.1,630.5" stroke="#1a1a1a" stroke-width="1.2" fill="none"/>
<g class="tl"><text x="887.1" y="940.1">−6</text><text x="928.2" y="950.2">−4</text><text x="969.8" y="960.4">−2</text><text x="1011.9" y="970.7">0</text><text x="1054.5" y="981.1">2</text><text x="1097.6" y="991.7">4</text><text x="1141.2" y="1002.4">6</text><text x="1198.9" y="992.5">−4</text><text x="1213.0" y="973.3">−3</text><text x="1226.7" y="954.5">−2</text><text x="1240.2" y="936.0">−1</text><text x="1253.4" y="918.0">0</text><text x="1266.3" y="900.4">1</text><text x="1279.0" y="883.1">2</text><text x="1291.3" y="866.2">3</text><text x="1303.5" y="849.7">4</text><text x="1316.1" y="799.4">−4</text><text x="1317.1" y="776.6">−3</text><text x="1318.1" y="753.7">−2</text><text x="1319.1" y="730.5">−1</text><text x="1320.1" y="707.0">0</text><text x="1321.1" y="683.4">1</text><text x="1322.2" y="659.5">2</text><text x="1323.2" y="635.3">3</text></g>
</g>
<text class="pl" x="-2.6" y="20.5">a</text><text class="pl" x="542.3" y="40.5">b</text><text class="pl" x="164.6" y="583.8">c</text>
<rect x="54.6" y="68.6" width="99.8" height="81.8" fill="#5b9bd5"/>
<text class="nb" x="105.1" y="121.2">75</text>
<rect x="158.9" y="68.6" width="89.3" height="81.8" fill="#deeaf6"/>
<text class="nr" x="203.6" y="121.2">1</text>
<rect x="252.3" y="68.6" width="96.7" height="81.8" fill="#deeaf6"/>
<text class="nr" x="300.6" y="121.2">1</text>
<rect x="353.0" y="68.6" width="95.8" height="81.8" fill="#cbdff2"/>
<text class="nr" x="400.9" y="121.2">2</text>
<rect x="54.6" y="163.4" width="99.8" height="78.2" fill="#deeaf6"/>
<text class="nr" x="104.5" y="210.0">0</text>
<rect x="158.9" y="163.4" width="89.3" height="78.2" fill="#5b9bd5"/>
<text class="nb" x="204.2" y="210.0">60</text>
<rect x="252.3" y="163.4" width="96.7" height="78.2" fill="#deeaf6"/>
<text class="nr" x="300.6" y="210.0">0</text>
<rect x="353.0" y="163.4" width="95.8" height="78.2" fill="#deeaf6"/>
<text class="nr" x="400.9" y="210.0">0</text>
<rect x="54.6" y="246.3" width="99.8" height="82.6" fill="#bdd7ee"/>
<text class="nr" x="104.5" y="296.9">5</text>
<rect x="158.9" y="246.3" width="89.3" height="82.6" fill="#cbdff2"/>
<text class="nr" x="203.6" y="296.9">2</text>
<rect x="252.3" y="246.3" width="96.7" height="82.6" fill="#5b9bd5"/>
<text class="nb" x="301.2" y="296.9">59</text>
<rect x="353.0" y="246.3" width="95.8" height="82.6" fill="#deeaf6"/>
<text class="nr" x="400.9" y="296.9">0</text>
<rect x="54.6" y="333.4" width="99.8" height="82.5" fill="#deeaf6"/>
<text class="nr" x="104.5" y="384.2">0</text>
<rect x="158.9" y="333.4" width="89.3" height="82.5" fill="#deeaf6"/>
<text class="nr" x="203.6" y="384.2">0</text>
<rect x="252.3" y="333.4" width="96.7" height="82.5" fill="#deeaf6"/>
<text class="nr" x="300.6" y="384.2">0</text>
<rect x="353.0" y="333.4" width="95.8" height="82.5" fill="#5b9bd5"/>
<text class="nb" x="401.5" y="384.2">22</text>
<text class="hd" text-anchor="middle" x="103.7" y="59.8">C1</text>
<text class="hd" text-anchor="middle" x="203.9" y="59.8">C2</text>
<text class="hd" text-anchor="middle" x="302.0" y="59.8">C3</text>
<text class="hd" text-anchor="middle" x="401.6" y="59.8">C4</text>
<text class="hd" x="11.5" y="118.2">C1</text>
<text class="hd" x="11.5" y="210.0">C2</text>
<text class="hd" x="11.5" y="296.4">C3</text>
<text class="hd" x="11.5" y="383.7">C4</text>
<text class="cap" x="167" y="451.6" textLength="165.5" lengthAdjust="spacingAndGlyphs">Predicted clusters</text>
<rect x="1414.4" y="529" width="104" height="233" fill="#fff" stroke="#000" stroke-width="0"/>
<path d="M1413.1 527.2H1520V764.2H1413.1Z M1415.6 531H1515.6V759.8H1415.6Z" fill="#000" fill-rule="evenodd"/>
<circle cx="1445.7" cy="571" r="12" fill="#c94f86"/>
<text class="lg" x="1468.3" y="575.8">C1</text>
<circle cx="1445.7" cy="621.4" r="12" fill="#eee833"/>
<text class="lg" x="1468.3" y="626.7">C2</text>
<circle cx="1445.7" cy="678.7" r="12" fill="#33f53c"/>
<text class="lg" x="1468.3" y="684.3">C3</text>
<circle cx="1445.7" cy="729.2" r="12" fill="#2121f0"/>
<text class="lg" x="1468.3" y="736.8">C4</text>
<path d="M57.5 444.6L137 445.4" stroke="#5b9bd5" stroke-width="3.4" fill="none"/>
<path d="M365 445.4L424 446.2" stroke="#5b9bd5" stroke-width="3.4" fill="none"/>
<path d="M422.6 434L447.8 446.2L422.6 458.4Z" fill="#5b9bd5"/>
</svg>
<!--MATRIX-->
</body></html>
